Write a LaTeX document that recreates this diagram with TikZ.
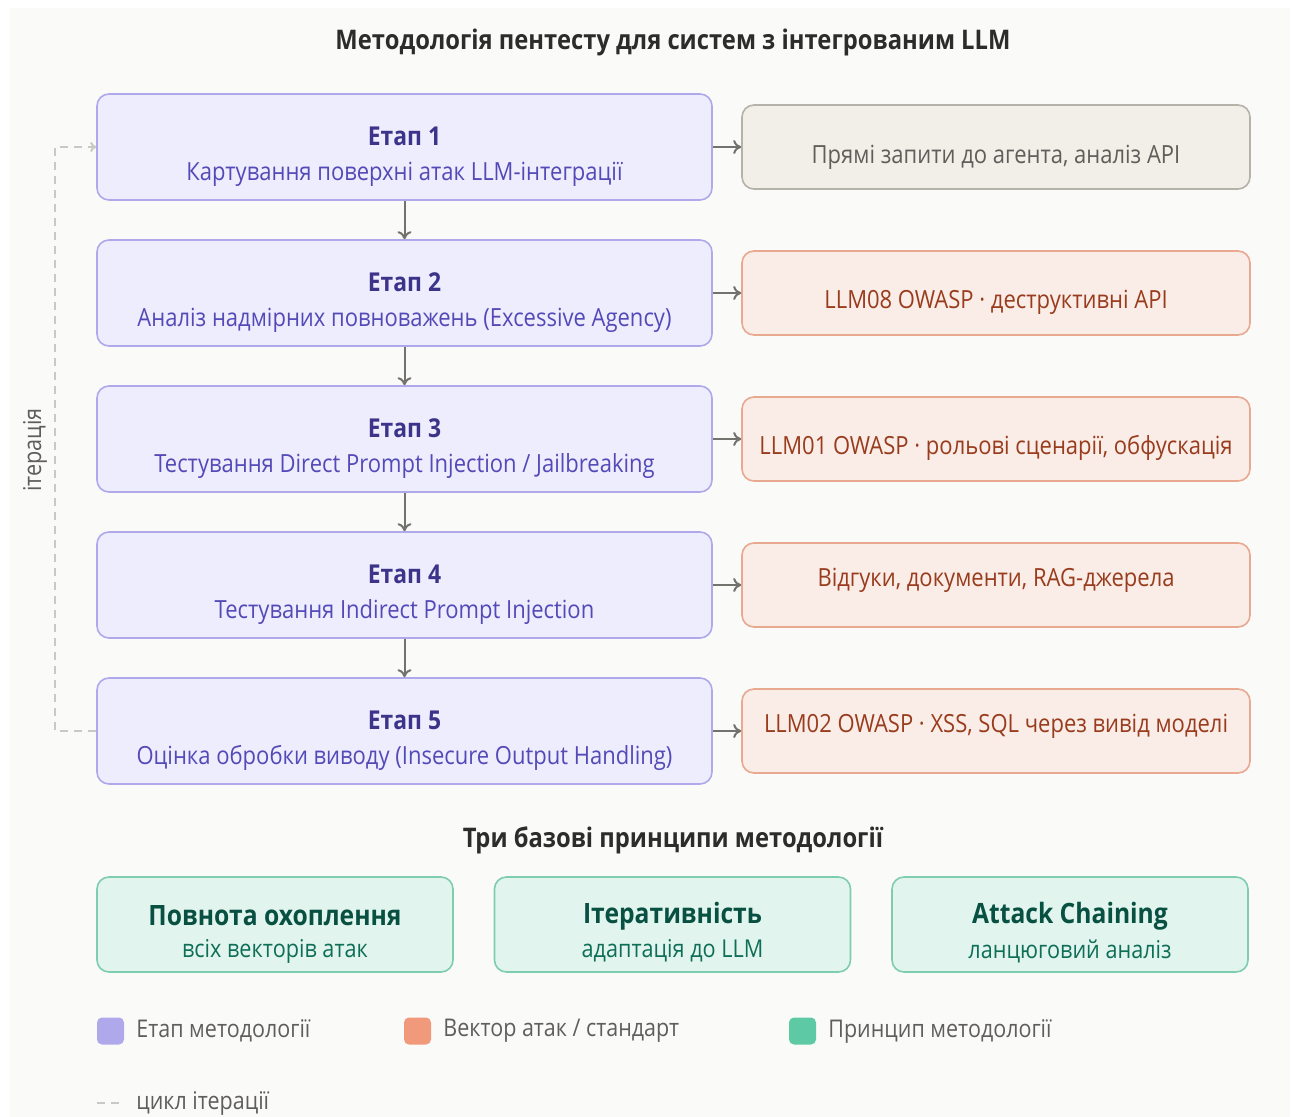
\documentclass[tikz,border=0pt]{standalone}
\usepackage{fontspec}
\setmainfont{Open Sans}[FakeStretch=0.88]
\usetikzlibrary{arrows.meta,positioning,calc}

\definecolor{pagebg}{HTML}{FAFAF8}
\definecolor{stagefill}{HTML}{EEEDFE}
\definecolor{stagedraw}{HTML}{AFA9EC}
\definecolor{stagehead}{HTML}{3C3489}
\definecolor{stagetext}{HTML}{534AB7}
\definecolor{grayfill}{HTML}{F1EFE8}
\definecolor{graydraw}{HTML}{B4B2A9}
\definecolor{graytext}{HTML}{5F5E5A}
\definecolor{vecfill}{HTML}{FAECE7}
\definecolor{vecdraw}{HTML}{E8A990}
\definecolor{vectext}{HTML}{993C1D}
\definecolor{prinfill}{HTML}{E1F5EE}
\definecolor{prindraw}{HTML}{7FCDB0}
\definecolor{prinhead}{HTML}{085041}
\definecolor{printext}{HTML}{0F6E56}
\definecolor{linkgray}{HTML}{73726C}
\definecolor{loopgray}{HTML}{C9C8C2}
\definecolor{titletext}{HTML}{2C2C2A}
\definecolor{legsq1}{HTML}{AFA9EC}
\definecolor{legsq2}{HTML}{F0997B}
\definecolor{legsq3}{HTML}{5DCAA5}

\tikzset{
  stagebox/.style={draw=stagedraw, fill=stagefill, line width=0.8pt, rounded corners=6pt,
    minimum width=307.5pt, minimum height=53pt, inner sep=0pt},
  vecbox/.style={draw=vecdraw, fill=vecfill, line width=0.8pt, rounded corners=6pt,
    minimum width=254pt, minimum height=42pt, inner sep=0pt},
  plainbox/.style={vecbox, draw=graydraw, fill=grayfill},
  prinbox/.style={draw=prindraw, fill=prinfill, line width=0.8pt, rounded corners=6pt,
    minimum width=178pt, minimum height=47.5pt, inner sep=0pt},
  headtxt/.style={font=\fontsize{13}{15}\selectfont\bfseries, text=stagehead, inner sep=0pt},
  subtxt/.style={font=\fontsize{12.5}{14}\selectfont, text=stagetext, inner sep=0pt},
  vectxt/.style={font=\fontsize{12.5}{14}\selectfont, text=vectext, inner sep=0pt},
  prinhd/.style={font=\fontsize{14}{16}\selectfont\bfseries, text=prinhead, inner sep=0pt},
  prinsub/.style={font=\fontsize{12.3}{14}\selectfont, text=printext, inner sep=0pt},
  legtxt/.style={font=\fontsize{12.2}{14}\selectfont, text=graytext, inner sep=0pt, anchor=west},
  sectitle/.style={font=\fontsize{13.5}{16}\selectfont\bfseries, text=titletext},
  legsq/.style={rounded corners=2.5pt, minimum width=13.5pt, minimum height=13.5pt, inner sep=0pt},
  flow/.style={draw=linkgray, line width=1pt, -{To[length=4pt,width=7pt]}},
  looparrow/.style={draw=loopgray, line width=1pt, dash pattern=on 4pt off 3pt,
    -{To[length=3pt,width=5pt]}}
}

\begin{document}
\begin{tikzpicture}[x=0.5pt, y=-0.5pt]
  % page and panel
  \useasboundingbox (0,0) rectangle (1299,1117);
  \fill[white] (0,0) rectangle (1299,1117);
  \fill[pagebg] (10,8) rectangle (1290,1117);

  % title
  \node[sectitle] (title) at (673,42)
    {Методологія пентесту для систем з інтегрованим LLM};

  % stages
  \foreach \i/\head/\sub in {
      1/{Етап 1}/{Картування поверхні атак LLM-інтеграції},
      2/{Етап 2}/{Аналіз надмірних повноважень (Excessive Agency)},
      3/{Етап 3}/{Тестування Direct Prompt Injection {/} Jailbreaking},
      4/{Етап 4}/{Тестування Indirect Prompt Injection},
      5/{Етап 5}/{Оцінка обробки виводу (Insecure Output Handling)}} {
    \pgfmathsetmacro{\yc}{147+146*(\i-1)}
    \node[stagebox] (s\i) at (404.5,\yc) {};
    \node[headtxt] (s\i h) at (404.5,\yc-11) {\head};
    \node[subtxt] (s\i s) at (404.5,\yc+27) {\sub};
  }

  % attack vectors / standards
  \node[plainbox] (v1) at (996,147) {};
  \node[vectxt, text=graytext] (v1t) at (996,157) {Прямі запити до агента, аналіз API};
  \node[vecbox] (v2) at (996,293) {};
  \node[vectxt] (v2t) at (996,302) {LLM08 OWASP · деструктивні API};
  \node[vecbox] (v3) at (996,439) {};
  \node[vectxt] (v3t) at (996,448) {LLM01 OWASP · рольові сценарії, обфускація};
  \node[vecbox] (v4) at (996,585) {};
  \node[vectxt] (v4t) at (996,580) {Відгуки, документи, RAG-джерела};
  \node[vecbox] (v5) at (996,731) {};
  \node[vectxt] (v5t) at (996,726) {LLM02 OWASP · XSS, SQL через вивід моделі};

  % connectors
  \foreach \i in {1,...,5} { \draw[flow] (s\i.east) -- (v\i.west); }
  \foreach \i/\j in {1/2,2/3,3/4,4/5} { \draw[flow] (s\i.south) -- (s\j.north); }

  % iteration loop
  \coordinate (loopcorner) at (55,731);
  \draw[looparrow] (s5.west) -- (loopcorner) |- (s1.west);
  \node[rotate=90, font=\fontsize{12.3}{14}\selectfont, text=graytext] (looplabel) at (35,450) {ітерація};

  % principles
  \node[sectitle] (ptitle) at (673,840) {Три базові принципи методології};
  \node[prinbox] (p1) at (275,924.5) {};
  \node[prinhd] (p1h) at (275,916) {Повнота охоплення};
  \node[prinsub] (p1s) at (275,951) {всіх векторів атак};
  \node[prinbox] (p2) at (672.5,924.5) {};
  \node[prinhd] (p2h) at (672.5,916) {Ітеративність};
  \node[prinsub] (p2s) at (672.5,951) {адаптація до LLM};
  \node[prinbox] (p3) at (1070,924.5) {};
  \node[prinhd] (p3h) at (1070,916) {Attack Chaining};
  \node[prinsub] (p3s) at (1070,951) {ланцюговий аналіз};

  % legend
  \node[legsq, fill=legsq1] (l1) at (110.5,1031) {};
  \node[legtxt] (l1t) at (136,1031) {Етап методології};
  \node[legsq, fill=legsq2] (l2) at (417.5,1031) {};
  \node[legtxt] (l2t) at (443,1031) {Вектор атак / стандарт};
  \node[legsq, fill=legsq3] (l3) at (802.5,1031) {};
  \node[legtxt] (l3t) at (828,1031) {Принцип методології};
  \coordinate (lda) at (97,1103);
  \coordinate (ldb) at (122,1103);
  \draw[draw=loopgray, line width=1pt, dash pattern=on 4pt off 3pt] (lda) -- (ldb);
  \node[legtxt] (l4t) at (136,1103) {цикл ітерації};
\end{tikzpicture}
\end{document}
